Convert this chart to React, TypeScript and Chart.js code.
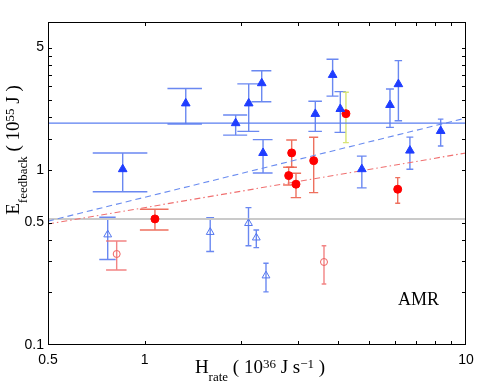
import React, { useEffect, useRef } from 'react';
import { Chart, registerables } from 'chart.js';
Chart.register(...registerables);

// Axis ranges and ticks
const X_MIN = 0.5;
const X_MAX = 10;
const Y_MIN = 0.1;
const Y_MAX = 7;
const xTickLabels = [0.5, 1, 10];
const yTickLabels = [0.1, 0.5, 1, 5];
const xTickMarks = [1, 2, 3, 4, 5, 6, 7, 8, 9];
const yTickMarks = [0.2, 0.3, 0.4, 0.5, 1, 1.5, 2, 2.5, 3, 3.5, 4, 4.5, 5];

// Filled blue triangles
const blueX = [0.854, 1.342, 1.919, 2.107, 2.313, 2.335, 3.396, 3.845, 4.062, 4.74, 5.8, 6.16, 6.69, 8.34];
const blueY = [1.01, 2.4, 1.85, 2.4, 3.13, 1.25, 2.09, 3.49, 2.23, 1.01, 2.35, 3.09, 1.29, 1.67];
const blueHi = [1.25, 2.92, 2.06, 3.1, 3.69, 1.49, 2.47, 4.29, 2.8, 1.2, 2.9, 4.21, 1.54, 1.95];
const blueLo = [0.75, 1.83, 1.58, 1.66, 2.45, 0.96, 1.66, 2.64, 1.64, 0.79, 1.75, 1.91, 1.01, 1.37];

// Filled red circles
const redX = [1.076, 2.806, 2.867, 2.957, 3.357, 6.13];
const redY = [0.525, 0.928, 1.251, 0.829, 1.13, 0.776];
const redHi = [0.596, 1.036, 1.483, 0.957, 1.538, 0.904];
const redLo = [0.454, 0.821, 1.036, 0.695, 0.742, 0.645];

// Filled red circle with the yellow-green error bar
const redAltX = [4.23];
const redAltY = [2.097];
const redAltHi = [2.78];
const redAltLo = [1.432];

// Open blue triangles
const openTriX = [0.767, 1.599, 2.104, 2.225, 2.385];
const openTriY = [0.427, 0.441, 0.496, 0.41, 0.249];
const openTriHi = [0.537, 0.534, 0.609, 0.454, 0.293];
const openTriLo = [0.308, 0.342, 0.369, 0.36, 0.201];

// Open red circles
const openCircX = [0.818, 3.614];
const openCircY = [0.331, 0.298];
const openCircHi = [0.393, 0.369];
const openCircLo = [0.268, 0.223];

// Reference lines
const lineX = [0.5, 10];
const blueLevel = [1.85, 1.85];
const grayLevel = [0.525, 0.525];
const blueFit = [0.51, 1.98];
const redFit = [0.491, 1.25];

const pts = (xs: number[], ys: number[]) => xs.map((x, i) => ({ x, y: ys[i] }));

const errSeries = [
  { x: blueX, lo: blueLo, hi: blueHi, color: 'rgba(80,115,238,0.85)', cap: 0.165 },
  { x: openTriX, lo: openTriLo, hi: openTriHi, color: 'rgba(80,115,238,0.85)', cap: 0.045 },
  { x: redX, lo: redLo, hi: redHi, color: 'rgba(236,96,76,0.9)', cap: 0.11 },
  { x: redAltX, lo: redAltLo, hi: redAltHi, color: 'rgba(214,228,110,0.95)', cap: 0.09 },
  { x: openCircX, lo: openCircLo, hi: openCircHi, color: 'rgba(240,110,110,0.85)', cap: 0.06 },
];

type Part = { t: string; f: string; dy: number };

function drawRich(ctx: CanvasRenderingContext2D, parts: Part[], cx: number, cy: number) {
  let total = 0;
  for (const p of parts) {
    ctx.font = p.f;
    total += ctx.measureText(p.t).width;
  }
  let x = cx - total / 2;
  ctx.textAlign = 'left';
  ctx.textBaseline = 'alphabetic';
  for (const p of parts) {
    ctx.font = p.f;
    ctx.fillText(p.t, x, cy + p.dy);
    x += ctx.measureText(p.t).width;
  }
}

const MAIN = '19px "Liberation Serif"';
const SMALL = '13px "Liberation Serif"';

const customPlugin = {
  id: 'custom',
  beforeDatasetsDraw(chart: any) {
    const ctx = chart.ctx as CanvasRenderingContext2D;
    const xs = chart.scales.x;
    const ys = chart.scales.y;
    const a = chart.chartArea;
    ctx.save();
    ctx.beginPath();
    ctx.rect(a.left, a.top, a.right - a.left, a.bottom - a.top);
    ctx.clip();
    ctx.lineWidth = 1.4;
    for (const s of errSeries) {
      ctx.strokeStyle = s.color;
      s.x.forEach((xv, i) => {
        const px = xs.getPixelForValue(xv);
        const pl = xs.getPixelForValue(xv - s.cap);
        const pr = xs.getPixelForValue(xv + s.cap);
        const ph = ys.getPixelForValue(s.hi[i]);
        const plo = ys.getPixelForValue(s.lo[i]);
        ctx.beginPath();
        ctx.moveTo(px, ph);
        ctx.lineTo(px, plo);
        ctx.moveTo(pl, ph);
        ctx.lineTo(pr, ph);
        ctx.moveTo(pl, plo);
        ctx.lineTo(pr, plo);
        ctx.stroke();
      });
    }
    ctx.restore();
  },
  afterDraw(chart: any) {
    const ctx = chart.ctx as CanvasRenderingContext2D;
    const xs = chart.scales.x;
    const ys = chart.scales.y;
    const a = chart.chartArea;
    ctx.save();
    ctx.strokeStyle = '#000';
    ctx.lineWidth = 1;
    ctx.strokeRect(a.left + 0.5, a.top + 0.5, a.right - a.left - 1, a.bottom - a.top - 1);
    ctx.beginPath();
    for (const v of xTickMarks) {
      const px = Math.round(xs.getPixelForValue(v)) + 0.5;
      ctx.moveTo(px, a.bottom);
      ctx.lineTo(px, a.bottom - 4);
      ctx.moveTo(px, a.top);
      ctx.lineTo(px, a.top + 4);
    }
    for (const v of yTickMarks) {
      const py = Math.round(ys.getPixelForValue(v)) + 0.5;
      ctx.moveTo(a.left, py);
      ctx.lineTo(a.left + 4, py);
      ctx.moveTo(a.right, py);
      ctx.lineTo(a.right - 4, py);
    }
    ctx.stroke();

    ctx.fillStyle = '#000';
    // x title
    drawRich(
      ctx,
      [
        { t: 'H', f: MAIN, dy: 0 },
        { t: 'rate', f: SMALL, dy: 7.5 },
        { t: ' ( 10', f: MAIN, dy: 0 },
        { t: '36', f: SMALL, dy: -5 },
        { t: ' J s', f: MAIN, dy: 0 },
        { t: '\u22121', f: SMALL, dy: -5 },
        { t: ' )', f: MAIN, dy: 0 },
      ],
      260,
      373
    );
    // y title
    ctx.save();
    ctx.translate(19, 150);
    ctx.rotate(-Math.PI / 2);
    drawRich(
      ctx,
      [
        { t: 'E', f: MAIN, dy: 0 },
        { t: 'feedback', f: SMALL, dy: 8 },
        { t: ' ( 10', f: MAIN, dy: 0 },
        { t: '55', f: SMALL, dy: -5 },
        { t: ' J )', f: MAIN, dy: 0 },
      ],
      0,
      0
    );
    ctx.restore();
    // AMR label
    ctx.font = '18px "Liberation Serif"';
    ctx.textAlign = 'left';
    ctx.textBaseline = 'alphabetic';
    ctx.fillText('AMR', 398, 305);
    ctx.restore();
  },
};

export default function App() {
  const ref = useRef<HTMLCanvasElement | null>(null);
  useEffect(() => {
    document.body.style.margin = '0';
    if (!ref.current) return;
    const chart = new Chart(ref.current, {
      type: 'scatter',
      data: {
        datasets: [
          {
            data: pts(blueX, blueY),
            pointStyle: 'triangle',
            pointRadius: 5,
            backgroundColor: '#1f3dff',
            borderColor: '#1f3dff',
            borderWidth: 1,
          },
          {
            data: pts(redAltX, redAltY),
            pointStyle: 'circle',
            pointRadius: 4,
            backgroundColor: '#ff0000',
            borderColor: '#ff0000',
            borderWidth: 1,
          },
          {
            data: pts(redX, redY),
            pointStyle: 'circle',
            pointRadius: 4,
            backgroundColor: '#ff0000',
            borderColor: '#ff0000',
            borderWidth: 1,
          },
          {
            data: pts(openTriX, openTriY),
            pointStyle: 'triangle',
            pointRadius: 4.5,
            backgroundColor: 'rgba(0,0,0,0)',
            borderColor: '#5577ee',
            borderWidth: 1,
          },
          {
            data: pts(openCircX, openCircY),
            pointStyle: 'circle',
            pointRadius: 3.5,
            backgroundColor: 'rgba(0,0,0,0)',
            borderColor: '#ee6060',
            borderWidth: 1,
          },
          {
            type: 'line',
            data: pts(lineX, blueLevel),
            borderColor: '#5a7ef0',
            borderWidth: 1.3,
            pointRadius: 0,
            showLine: true,
          },
          {
            type: 'line',
            data: pts(lineX, blueFit),
            borderColor: '#6a8cf0',
            borderWidth: 1.1,
            borderDash: [6, 4],
            pointRadius: 0,
            showLine: true,
          },
          {
            type: 'line',
            data: pts(lineX, redFit),
            borderColor: '#f07070',
            borderWidth: 1.1,
            borderDash: [6, 3, 1.5, 3],
            pointRadius: 0,
            showLine: true,
          },
          {
            type: 'line',
            data: pts(lineX, grayLevel),
            borderColor: '#cacaca',
            borderWidth: 2,
            pointRadius: 0,
            showLine: true,
          },
        ] as any,
      },
      options: {
        animation: false,
        responsive: false,
        devicePixelRatio: 1,
        layout: { padding: { top: 22, right: 25, left: 0, bottom: 0 } },
        plugins: { legend: { display: false }, tooltip: { enabled: false } },
        scales: {
          x: {
            type: 'logarithmic',
            min: X_MIN,
            max: X_MAX,
            grid: { display: false, drawTicks: false },
            border: { display: false },
            afterBuildTicks: (s: any) => {
              s.ticks = xTickLabels.map((v) => ({ value: v }));
            },
            afterFit: (s: any) => {
              s.height = 38;
            },
            ticks: {
              font: { family: 'Liberation Sans', size: 14 },
              color: '#000',
              padding: 7,
              maxRotation: 0,
              autoSkip: false,
              callback: (v: any) => String(v),
            },
          },
          y: {
            type: 'logarithmic',
            min: Y_MIN,
            max: Y_MAX,
            grid: { display: false, drawTicks: false },
            border: { display: false },
            afterBuildTicks: (s: any) => {
              s.ticks = yTickLabels.map((v) => ({ value: v }));
            },
            afterFit: (s: any) => {
              s.width = 48;
            },
            ticks: {
              font: { family: 'Liberation Sans', size: 14 },
              color: '#000',
              padding: 4,
              autoSkip: false,
              callback: (v: any) => String(v),
            },
          },
        },
      } as any,
      plugins: [customPlugin as any],
    });
    return () => chart.destroy();
  }, []);
  return (
    <div style={{ position: 'absolute', left: 0, top: 0, width: 491, height: 383 }}>
      <canvas ref={ref} width={491} height={383} style={{ display: 'block', width: 491, height: 383 }} />
    </div>
  );
}
